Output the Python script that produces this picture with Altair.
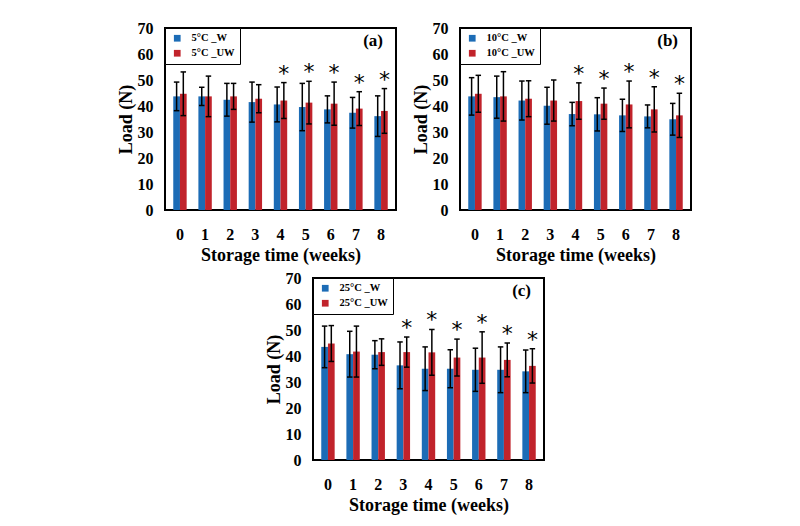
import altair as alt
import pandas as pd

weeks = [0, 1, 2, 3, 4, 5, 6, 7, 8]

# Panel (a) 5 °C
a_w = [43.7, 43.7, 42.4, 41.5, 40.6, 39.6, 38.7, 37.4, 36.1]
a_w_err = [5.5, 3.5, 6.3, 7.7, 6.7, 9.1, 5.2, 5.9, 7.8]
a_uw = [44.7, 43.7, 43.7, 42.8, 42.1, 41.3, 40.9, 39.0, 38.1]
a_uw_err = [8.4, 7.8, 5.0, 5.4, 6.9, 8.2, 8.3, 6.5, 8.6]
a_sig = [4, 5, 6, 7, 8]

# Panel (b) 10 °C
b_w = [43.7, 43.4, 42.1, 40.1, 36.9, 36.8, 36.4, 36.0, 34.9]
b_w_err = [7.2, 8.1, 7.5, 7.1, 4.5, 6.4, 6.2, 4.4, 6.1]
b_uw = [44.7, 43.7, 42.8, 42.1, 41.9, 40.9, 40.6, 38.7, 36.4]
b_uw_err = [7.1, 9.5, 6.9, 7.9, 7.0, 6.0, 9.0, 8.7, 8.5]
b_sig = [4, 5, 6, 7, 8]

# Panel (c) 25 °C
c_w = [43.5, 40.7, 40.5, 36.4, 35.1, 35.1, 34.7, 34.7, 34.1]
c_w_err = [8.0, 8.8, 5.4, 9.0, 8.4, 7.3, 8.3, 8.8, 8.2]
c_uw = [44.8, 41.7, 41.5, 41.5, 41.4, 39.4, 39.4, 38.5, 36.2]
c_uw_err = [6.9, 9.8, 5.1, 5.8, 8.8, 7.1, 9.9, 6.5, 6.6]
c_sig = [3, 4, 5, 6, 7, 8]

BLUE = "#1c6cb6"
RED = "#c1232b"
W, H = 231, 182
BAR_W = 6.7
SERIF = "Liberation Serif"


def panel(w, werr, uw, uwerr, sig, temp, tag):
    lw = f"{temp}°C _W"
    luw = f"{temp}°C _UW"
    rows = []
    for i, wk in enumerate(weeks):
        rows.append(dict(week=wk, series=lw, mean=w[i], lo=w[i] - werr[i],
                         hi=w[i] + werr[i], star=0))
        rows.append(dict(week=wk, series=luw, mean=uw[i], lo=uw[i] - uwerr[i],
                         hi=uw[i] + uwerr[i], star=1 if wk in sig else 0))
    df = pd.DataFrame(rows)

    x = alt.X("week:O", title="Storage time (weeks)",
              scale=alt.Scale(type="band", paddingInner=0.47, paddingOuter=0.33),
              axis=alt.Axis(labelAngle=0))
    yscale = alt.Scale(domain=[0, 70], nice=False)
    yaxis = alt.Axis(values=list(range(0, 71, 10)))

    def Y(f):
        return alt.Y(f, title="Load (N)", scale=yscale, axis=yaxis)

    color = alt.Color("series:N", scale=alt.Scale(domain=[lw, luw], range=[BLUE, RED]),
                      legend=alt.Legend(title=None, orient="top-left", offset=0))

    base = alt.Chart(df)
    layers = []
    for s, d in [(lw, -BAR_W / 2), (luw, BAR_W / 2)]:
        sub = base.transform_filter(alt.datum.series == s)
        layers.append(sub.mark_bar(width=BAR_W, xOffset=d).encode(
            x=x, y=Y("mean:Q"), color=color))
    for s, d in [(lw, -BAR_W / 2), (luw, BAR_W / 2)]:
        sub = base.transform_filter(alt.datum.series == s)
        layers.append(sub.mark_rule(color="black", strokeWidth=1.5, xOffset=d).encode(
            x=x, y=Y("lo:Q"), y2="hi:Q"))
        for f in ["hi:Q", "lo:Q"]:
            layers.append(sub.mark_point(
                shape="M-1,0L1,0", size=30, filled=False, color="black",
                strokeWidth=1.5, opacity=1, xOffset=d).encode(x=x, y=Y(f)))
    layers.append(base.transform_filter(alt.datum.star == 1).mark_text(
        text="*", font="DejaVu Sans", fontSize=22, baseline="alphabetic",
        color="black", xOffset=BAR_W / 2, dy=-2).encode(x=x, y=Y("hi:Q")))
    layers.append(alt.Chart(pd.DataFrame({"t": [tag]})).mark_text(
        font=SERIF, fontWeight="bold", fontSize=17, align="right", baseline="middle",
        color="black").encode(text="t:N", x=alt.value(W - 13), y=alt.value(13)))
    return alt.layer(*layers).properties(width=W, height=H)


pa = panel(a_w, a_w_err, a_uw, a_uw_err, a_sig, 5, "(a)")
pb = panel(b_w, b_w_err, b_uw, b_uw_err, b_sig, 10, "(b)")
pc = panel(c_w, c_w_err, c_uw, c_uw_err, c_sig, 25, "(c)")

spacer = alt.Chart(pd.DataFrame({"s": [0]})).mark_point(opacity=0).encode(
    x=alt.value(0), y=alt.value(0)).properties(
    width=98, height=H, view=alt.ViewConfig(stroke="transparent"))

top = alt.hconcat(pa, pb, spacing=14).resolve_scale(color="independent").resolve_legend(color="independent")
bottom = alt.hconcat(spacer, pc, spacing=0).resolve_scale(color="independent").resolve_legend(color="independent")
chart = alt.vconcat(top, bottom, spacing=4).resolve_scale(
    color="independent").resolve_legend(color="independent").properties(
    padding={"left": 108, "top": 11, "right": 5, "bottom": 0})

chart = chart.configure_view(stroke="black", strokeWidth=2).configure_axis(
    domain=False, ticks=False, grid=False,
    labelFont=SERIF, labelFontWeight="bold", labelFontSize=16, labelColor="black",
    titleFont=SERIF, titleFontWeight="bold", titleFontSize=18, titleColor="black",
).configure_axisX(labelPadding=16, titlePadding=4).configure_axisY(
    labelPadding=12, titlePadding=2).configure_legend(
    strokeColor="black", fillColor="white", padding=5, rowPadding=4,
    symbolType="square", symbolSize=45, symbolStrokeWidth=0,
    labelFont=SERIF, labelFontWeight="bold", labelFontSize=10.5, labelColor="black",
    symbolOffset=2, labelOffset=9)

chart.save("out.html", embed_options={"renderer": "svg", "actions": False})
